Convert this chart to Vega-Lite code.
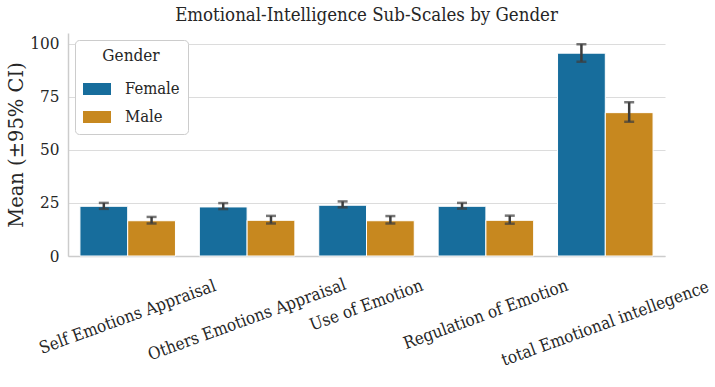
{
  "$schema": "https://vega.github.io/schema/vega-lite/v6.json",
  "width": 597,
  "height": 223,
  "autosize": {"type": "none"},
  "padding": {"left": 68, "top": 33, "right": 50, "bottom": 131},
  "background": "white",
  "title": {
    "text": "Emotional-Intelligence Sub-Scales by Gender",
    "font": "DejaVu Serif Condensed",
    "fontSize": 18.5,
    "fontWeight": "normal",
    "color": "#262626",
    "anchor": "middle",
    "offset": 9
  },
  "config": {
    "view": {"stroke": null},
    "axis": {
      "labelFont": "DejaVu Serif Condensed",
      "titleFont": "DejaVu Serif",
      "titleFontWeight": "normal",
      "labelColor": "#262626",
      "titleColor": "#262626",
      "domainColor": "#cccccc",
      "domainWidth": 1.5,
      "gridColor": "#dcdcdc",
      "gridWidth": 1.2,
      "ticks": false
    }
  },
  "data": {
    "values": [
      {"scale": "Self Emotions Appraisal", "Gender": "Female", "mean": 23.4, "lo": 22.2, "hi": 25.0},
      {"scale": "Self Emotions Appraisal", "Gender": "Male", "mean": 16.6, "lo": 15.3, "hi": 18.4},
      {"scale": "Others Emotions Appraisal", "Gender": "Female", "mean": 23.1, "lo": 22.1, "hi": 24.9},
      {"scale": "Others Emotions Appraisal", "Gender": "Male", "mean": 16.8, "lo": 15.3, "hi": 18.9},
      {"scale": "Use of Emotion", "Gender": "Female", "mean": 23.9, "lo": 22.9, "hi": 25.7},
      {"scale": "Use of Emotion", "Gender": "Male", "mean": 16.6, "lo": 15.3, "hi": 18.8},
      {"scale": "Regulation of Emotion", "Gender": "Female", "mean": 23.4, "lo": 22.3, "hi": 25.0},
      {"scale": "Regulation of Emotion", "Gender": "Male", "mean": 16.8, "lo": 15.2, "hi": 19.0},
      {"scale": "total Emotional intellegence", "Gender": "Female", "mean": 95.5, "lo": 91.5, "hi": 99.7},
      {"scale": "total Emotional intellegence", "Gender": "Male", "mean": 67.5, "lo": 63.2, "hi": 72.4}
    ]
  },
  "encoding": {
    "x": {
      "field": "scale",
      "type": "nominal",
      "sort": null,
      "title": null,
      "scale": {"paddingInner": 0.2, "paddingOuter": 0.1},
      "axis": {
        "labelAngle": -20,
        "labelAlign": "center",
        "labelBaseline": "middle",
        "labelPadding": {"expr": "31 + length(datum.label) * 1.3"},
        "labelFontSize": 17,
        "labelLimit": 0,
        "grid": false,
        "domain": true
      }
    },
    "xOffset": {"field": "Gender", "type": "nominal", "sort": ["Female", "Male"], "scale": {"paddingInner": 0, "paddingOuter": 0}}
  },
  "layer": [
    {
      "mark": {"type": "bar", "stroke": "white", "strokeWidth": 1},
      "encoding": {
        "y": {
          "field": "mean",
          "type": "quantitative",
          "title": "Mean (±95% CI)",
          "scale": {"domain": [0, 105], "nice": false},
          "axis": {
            "values": [0, 25, 50, 75, 100],
            "labelFontSize": 17,
            "titleFontSize": 19.5,
            "labelPadding": 9,
            "titlePadding": 3,
            "grid": true
          }
        },
        "color": {
          "field": "Gender",
          "type": "nominal",
          "sort": ["Female", "Male"],
          "scale": {"domain": ["Female", "Male"], "range": ["#176d9c", "#c7881f"]},
          "legend": {
            "title": "Gender",
            "orient": "top-left",
            "offset": 7,
            "titleFont": "DejaVu Serif Condensed",
            "titleFontSize": 17,
            "titleFontWeight": "normal",
            "titleColor": "#262626",
            "titleAnchor": "middle",
            "titlePadding": 10,
            "labelFont": "DejaVu Serif Condensed",
            "labelFontSize": 16.5,
            "labelColor": "#262626",
            "labelOffset": 14,
            "symbolType": "M-1,-0.43H1V0.43H-1Z",
            "symbolSize": 784,
            "symbolStrokeWidth": 0,
            "rowPadding": 5,
            "padding": 8,
            "strokeColor": "#cccccc",
            "fillColor": "white",
            "cornerRadius": 4
          }
        }
      }
    },
    {
      "mark": {"type": "rule", "color": "#3d3d3d", "strokeWidth": 2.5},
      "encoding": {
        "y": {"field": "lo", "type": "quantitative"},
        "y2": {"field": "hi"}
      }
    },
    {
      "mark": {"type": "tick", "color": "#3d3d3d", "thickness": 2.5, "size": 10, "orient": "horizontal"},
      "encoding": {"y": {"field": "lo", "type": "quantitative"}}
    },
    {
      "mark": {"type": "tick", "color": "#3d3d3d", "thickness": 2.5, "size": 10, "orient": "horizontal"},
      "encoding": {"y": {"field": "hi", "type": "quantitative"}}
    }
  ]
}
